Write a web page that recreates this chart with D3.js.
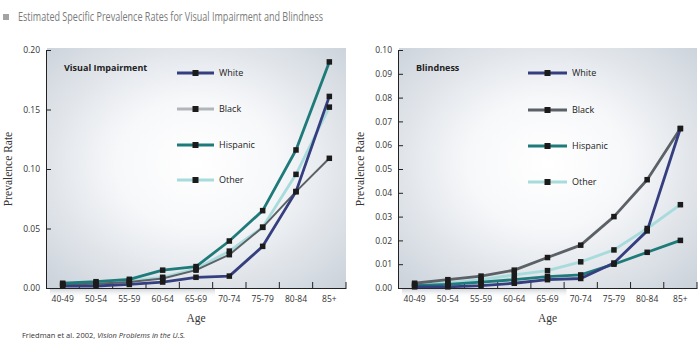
<!DOCTYPE html>
<html>
<head>
<meta charset="utf-8">
<script src="https://cdn.jsdelivr.net/npm/d3@7"></script>
<style>
  body { margin: 0; background: #fff; }
  text { font-family: 'Open Sans', sans-serif; }
</style>
</head>
<body>
<div id="chart"></div>
<script>
// age groups on the x axis
const ageGroups = ['40-49', '50-54', '55-59', '60-64', '65-69', '70-74', '75-79', '80-84', '85+'];
const races = ['White', 'Black', 'Hispanic', 'Other'];

// visual impairment prevalence
const impairWhite    = [0.0015, 0.0017, 0.003, 0.005, 0.009, 0.010, 0.035, 0.081, 0.161];
const impairBlack    = [0.003, 0.0035, 0.005, 0.008, 0.015, 0.028, 0.051, 0.081, 0.109];
const impairHispanic = [0.004, 0.0053, 0.0073, 0.015, 0.018, 0.0395, 0.065, 0.116, 0.190];
const impairOther    = [0.003, 0.004, 0.006, 0.009, 0.016, 0.031, 0.051, 0.0955, 0.152];

// blindness prevalence
const blindWhite    = [0.0005, 0.0005, 0.001, 0.002, 0.0035, 0.004, 0.0105, 0.024, 0.067];
const blindBlack    = [0.002, 0.0035, 0.005, 0.0075, 0.0128, 0.018, 0.030, 0.0455, 0.067];
const blindHispanic = [0.001, 0.0015, 0.0025, 0.0035, 0.0048, 0.0055, 0.010, 0.015, 0.020];
const blindOther    = [0.0015, 0.002, 0.0035, 0.0055, 0.0073, 0.011, 0.016, 0.025, 0.035];

const impairTicks = [0, 0.05, 0.10, 0.15, 0.20];
const blindTicks = [0, 0.01, 0.02, 0.03, 0.04, 0.05, 0.06, 0.07, 0.08, 0.09, 0.10];

const lineColors = { White: '#353f7f', Black: '#5b6166', Hispanic: '#1f7a7a', Other: '#a8dbdb' };

const W = 700, H = 352;
const svg = d3.select('#chart').append('svg').attr('width', W).attr('height', H);

const defs = svg.append('defs');
const grad = defs.append('radialGradient').attr('id', 'panelBg')
    .attr('cx', '50%').attr('cy', '48%').attr('r', '70%');
grad.append('stop').attr('offset', '0%').attr('stop-color', '#ffffff');
grad.append('stop').attr('offset', '38%').attr('stop-color', '#f7f8fa');
grad.append('stop').attr('offset', '100%').attr('stop-color', '#ccd3db');
const shadow = defs.append('linearGradient').attr('id', 'axisShadow')
    .attr('x1', 0).attr('y1', 0).attr('x2', 0).attr('y2', 1);
shadow.append('stop').attr('offset', '0%').attr('stop-color', '#c5cbd2').attr('stop-opacity', 0.8);
shadow.append('stop').attr('offset', '100%').attr('stop-color', '#ffffff').attr('stop-opacity', 0);

// title
svg.append('rect').attr('x', 3).attr('y', 14).attr('width', 6).attr('height', 6).attr('fill', '#a3a3a3');
svg.append('text').attr('x', 18).attr('y', 21)
    .attr('textLength', 305).attr('lengthAdjust', 'spacingAndGlyphs')
    .style('font-size', '12px').attr('fill', '#7a7a7a')
    .text('Estimated Specific Prevalence Rates for Visual Impairment and Blindness');

// source note
const src = svg.append('text').attr('x', 22).attr('y', 338)
    .style('font-size', '7.5px').attr('fill', '#333');
src.append('tspan').text('Friedman et al. 2002, ');
src.append('tspan').style('font-style', 'italic').text('Vision Problems in the U.S.');

function drawPanel(cfg) {
    const x = d3.scaleBand(ageGroups, [cfg.left, cfg.right]);
    const y = d3.scaleLinear([0, cfg.max], [288, 50]);
    const g = svg.append('g');

    g.append('rect').attr('x', cfg.left + 1).attr('y', 48)
        .attr('width', cfg.right - cfg.left - 1).attr('height', 240)
        .attr('fill', 'url(#panelBg)');
    g.append('rect').attr('x', cfg.left + 4).attr('y', 289)
        .attr('width', (cfg.right - cfg.left) * 0.55).attr('height', 9)
        .attr('fill', 'url(#axisShadow)');

    // y axis
    const ay = g.append('g').attr('transform', `translate(${cfg.left},0)`)
        .call(d3.axisLeft(y).tickValues(cfg.ticks).tickFormat(d3.format('.2f'))
            .tickSizeInner(-5).tickSizeOuter(0).tickPadding(6));
    ay.select('.domain').attr('stroke', '#222');
    ay.selectAll('.tick line').attr('stroke', '#222');
    ay.selectAll('text').style('font-size', '8.5px').attr('fill', '#333')
        .style('font-family', "'Open Sans', sans-serif");

    // x axis
    const ax = g.append('g').attr('transform', 'translate(0,288)')
        .call(d3.axisBottom(x).tickSize(0).tickPadding(8));
    ax.select('.domain').attr('stroke', '#222');
    ax.selectAll('text').style('font-size', '8.5px').attr('fill', '#333')
        .style('font-family', "'Open Sans', sans-serif");
    g.selectAll('line.xtick').data(ageGroups.slice(1).map(a => x(a)).concat([x.range()[1]]))
        .join('line').classed('xtick', true)
        .attr('x1', d => d).attr('x2', d => d).attr('y1', 288).attr('y2', 282)
        .attr('stroke', '#222');

    // axis titles
    g.append('text').attr('x', (cfg.left + cfg.right) / 2).attr('y', 322)
        .attr('text-anchor', 'middle').style('font-family', "'Liberation Serif', serif")
        .style('font-size', '11.5px').attr('fill', '#333').text('Age');
    g.append('text').attr('transform', `translate(${cfg.left - 34},169) rotate(-90)`)
        .attr('text-anchor', 'middle').style('font-family', "'Liberation Serif', serif")
        .style('font-size', '11.5px').attr('fill', '#333').text('Prevalence Rate');

    g.append('text').attr('x', cfg.left + 18).attr('y', 71)
        .style('font-size', '9px').style('font-weight', 'bold').attr('fill', '#222')
        .text(cfg.title);

    // lines
    const line = d3.line().x((d, i) => x(ageGroups[i]) + x.bandwidth() / 2).y(d => y(d));
    const order = ['Other', 'Black', 'Hispanic', 'White'];
    order.forEach(r => {
        g.append('path').datum(cfg.series[r]).attr('d', line)
            .attr('fill', 'none').attr('stroke', lineColors[r])
            .attr('stroke-width', r === 'Black' && cfg.title === 'Visual Impairment' ? 2 : 2.8)
            .attr('stroke-linejoin', 'round');
    });
    order.forEach(r => {
        g.selectAll(null).data(cfg.series[r]).join('rect')
            .attr('x', (d, i) => x(ageGroups[i]) + x.bandwidth() / 2 - 2.75)
            .attr('y', d => y(d) - 2.75).attr('width', 5.5).attr('height', 5.5)
            .attr('fill', '#1b1b1b');
    });

    // legend
    races.forEach((r, i) => {
        const ly = cfg.legendY[i];
        const lg = g.append('g');
        lg.append('line').attr('x1', cfg.legendX).attr('x2', cfg.legendX + cfg.legendW)
            .attr('y1', ly).attr('y2', ly)
            .attr('stroke', cfg.legendColors[r]).attr('stroke-width', 3);
        lg.append('rect').attr('x', cfg.legendX + cfg.legendW / 2 - 3).attr('y', ly - 3)
            .attr('width', 6).attr('height', 6).attr('fill', '#1b1b1b');
        lg.append('text').attr('x', cfg.legendX + cfg.legendW + 5).attr('y', ly + 3)
            .style('font-size', '9px').attr('fill', '#222').text(r);
    });
}

drawPanel({
    left: 46, right: 346, max: 0.2, ticks: impairTicks, title: 'Visual Impairment',
    series: { White: impairWhite, Black: impairBlack, Hispanic: impairHispanic, Other: impairOther },
    legendX: 177, legendW: 37, legendY: [73, 109, 145, 180],
    legendColors: { White: '#353f7f', Black: '#b3b6b9', Hispanic: '#1f7a7a', Other: '#a8dbdb' }
});

drawPanel({
    left: 398, right: 697, max: 0.1, ticks: blindTicks, title: 'Blindness',
    series: { White: blindWhite, Black: blindBlack, Hispanic: blindHispanic, Other: blindOther },
    legendX: 528, legendW: 39, legendY: [73, 110, 146, 182],
    legendColors: lineColors
});
</script>
</body>
</html>
